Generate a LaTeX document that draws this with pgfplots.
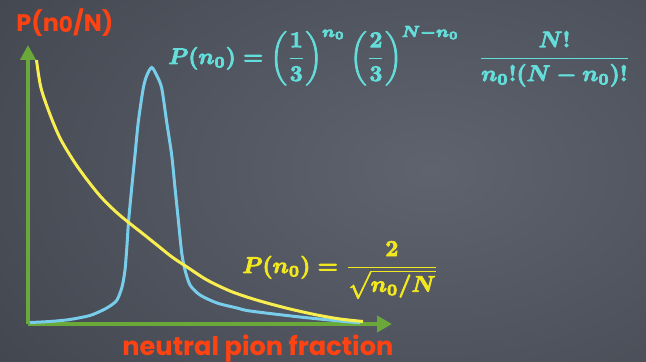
\documentclass[border=0pt]{standalone}
\usepackage{pgfplots}
\pgfplotsset{compat=1.18}
\usepackage{fontspec}
\usetikzlibrary{arrows.meta}
\newfontfamily\chalk{Poppins}

\definecolor{boarddark}{RGB}{50,54,62}
\definecolor{boardlight}{RGB}{94,99,110}
\definecolor{axisgreen}{RGB}{106,168,58}
\definecolor{curvecyan}{RGB}{120,205,235}
\definecolor{curveyellow}{RGB}{248,238,80}
\definecolor{textcyan}{RGB}{100,222,218}
\definecolor{textyellow}{RGB}{242,232,30}
\definecolor{labelorange}{RGB}{255,66,18}

% heavier strokes for the chalk-written formulas
\newcommand{\chalkbold}[1]{\special{pdf:literal direct 2 Tr 0.35 w}#1\special{pdf:literal direct 0 Tr 0.4 w}}

% binomial distribution of the neutral fraction (peaked)
\pgfplotstableread{
f       P
0.0059  0.0058
0.0647  0.0097
0.1235  0.0175
0.1824  0.0331
0.2206  0.0545
0.2412  0.0700
0.2618  0.0934
0.2765  0.1440
0.2853  0.2101
0.2912  0.3074
0.2956  0.3969
0.3050  0.5292
0.3147  0.6576
0.3244  0.7860
0.3391  0.9183
0.3500  0.9689
0.3638  0.9981
0.3779  0.9689
0.3932  0.9183
0.4079  0.7860
0.4226  0.6576
0.4324  0.5292
0.4421  0.4047
0.4521  0.2763
0.4618  0.2101
0.4765  0.1518
0.5059  0.1128
0.5559  0.0817
0.6147  0.0623
0.6529  0.0506
0.8000  0.0272
0.9471  0.0078
0.9765  0.0058
}\binomial

% coherent-state distribution, falling as 1/sqrt
\pgfplotstableread{
f       P
0.0250  1.0272
0.0382  0.9183
0.0676  0.8054
0.0971  0.7160
0.1382  0.6265
0.1765  0.5564
0.2147  0.4942
0.2559  0.4397
0.2941  0.3969
0.3353  0.3541
0.3794  0.3074
0.4235  0.2607
0.4676  0.2218
0.5265  0.1712
0.5941  0.1284
0.6529  0.1012
0.7029  0.0817
0.7706  0.0584
0.8500  0.0350
0.9176  0.0195
0.9853  0.0097
}\coherent

\begin{document}
\begin{tikzpicture}
\useasboundingbox (0,0) rectangle (323pt,181pt);
% chalkboard
\fill[boarddark] (0,0) rectangle (323pt,181pt);
\begin{scope}
  \clip (0,0) rectangle (323pt,181pt);
  \shade[inner color=boardlight, outer color=boarddark]
    (215pt,96pt) ellipse (420pt and 270pt);
\end{scope}

\begin{axis}[
  at={(14pt,19pt)}, anchor=south west,
  scale only axis, width=182pt, height=139.5pt,
  xmin=0, xmax=1.0706, ymin=0, ymax=1.0856,
  axis lines=left,
  xtick=\empty, ytick=\empty,
  axis line style={draw=axisgreen, line width=2pt},
  x axis line style={-{Triangle[length=7.5pt,width=8pt]}},
  y axis line style={-{Triangle[length=7.5pt,width=7.5pt]}},
  clip=false,
]
\addplot[curvecyan, line width=1.5pt, smooth, tension=0.45] table[x=f,y=P] {\binomial};
\addplot[curveyellow, line width=1.5pt, smooth, tension=0.5] table[x=f,y=P] {\coherent};
\end{axis}

% labels
\node[anchor=base west, inner sep=0pt, text=labelorange] at (8pt,165.2pt)
  {\resizebox{48.5pt}{!}{\chalk\bfseries P(n\raisebox{-0.5pt}{\small 0}/N)}};
\node[anchor=base west, inner sep=0pt, text=labelorange] at (61pt,3.2pt)
  {\resizebox{135.5pt}{!}{\chalk\bfseries neutral pion fraction}};

% formulas
\node[anchor=base west, inner sep=0pt, text=textcyan] at (84pt,149pt)
  {\resizebox{231pt}{!}{\chalkbold{\boldmath$\displaystyle P(n_0) = \left(\frac{1}{3}\right)^{n_0} \left(\frac{2}{3}\right)^{N-n_0}\;\; \frac{N!}{n_0!(N-n_0)!}$}}};
\node[anchor=base west, inner sep=0pt, text=textyellow] at (121pt,44.5pt)
  {\resizebox{98pt}{!}{\chalkbold{\boldmath$\displaystyle P(n_0) = \frac{2}{\sqrt{n_0/N}}$}}};
\end{tikzpicture}
\end{document}
